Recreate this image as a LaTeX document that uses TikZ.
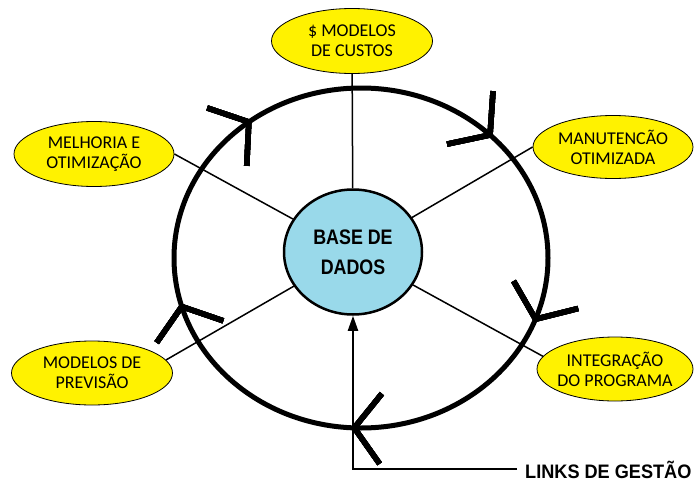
\documentclass[tikz,border=0pt]{standalone}
\usepackage{fontspec}
\setmainfont{Carlito}
\newfontfamily\headfont[FakeStretch=0.85]{Liberation Sans}
\newfontfamily\linkfont[FakeStretch=0.93]{Liberation Sans}
\usetikzlibrary{shapes.geometric,arrows.meta,decorations.markings}
\definecolor{topicyellow}{RGB}{255,242,0}
\definecolor{basecyan}{RGB}{153,217,234}

\begin{document}
\begin{tikzpicture}[x=1pt,y=-1pt,
  topic/.style={ellipse,draw,line width=0.8pt,fill=topicyellow,inner xsep=-5pt,inner ysep=0pt,
    minimum width=160pt,minimum height=64pt,align=center,font=\fontsize{18}{20}\selectfont},
  basenode/.style={ellipse,draw,line width=2.5pt,fill=basecyan,minimum width=138pt,minimum height=125pt,
    align=center,font=\headfont\bfseries\fontsize{21}{30}\selectfont},
  spoke/.style={line width=1.5pt},
  chevron/.style={line width=5.5pt},
  chevronat/.style={decoration={markings,mark=at position #1 with
    {\draw[chevron] (26.5pt,35.1pt) -- (0,0) -- (26.5pt,-35.1pt);}},postaction={decorate}},
  ring/.style={line width=5pt}]
  \useasboundingbox (0,0) rectangle (694,482);

  % the cycle
  \draw[ring,chevronat=0.125,chevronat=0.356,chevronat=0.544,chevronat=0.744,chevronat=0.944]
    (361,258) ellipse [x radius=187pt,y radius=170pt];

  % topics
  \node[topic,minimum width=161pt,minimum height=65pt] (custos) at (352,41) {\$ MODELOS\\DE CUSTOS};
  \node[topic,minimum height=65pt] (melhoria) at (94,154) {MELHORIA E\\OTIMIZAÇÃO};
  \node[topic,minimum height=63pt] (manutencao) at (613,147) {MANUTENCÃO\\OTIMIZADA};
  \node[topic,minimum width=161pt] (previsao) at (92,373) {MODELOS DE\\PREVISÃO};
  \node[topic,minimum width=156pt] (integracao) at (615,369) {INTEGRAÇÃO\\DO PROGRAMA};

  \node[basenode] (base) at (353,252) {BASE DE\\DADOS};
  \node[anchor=base west,inner xsep=8pt,font=\linkfont\bfseries\fontsize{19.5}{22}\selectfont]
    (links) at (517,478) {LINKS DE GESTÃO};

  % spokes
  \draw[spoke] (base) -- (custos);
  \draw[spoke] (base) -- (melhoria.east);
  \draw[spoke] (base) -- (manutencao.west);
  \draw[spoke] (base) -- (previsao.10);
  \draw[spoke] (base) -- (integracao.170);

  \draw[line width=2pt,-{Triangle[length=15pt,width=10pt]}] (links.west) -| (base.south);
\end{tikzpicture}
\end{document}
